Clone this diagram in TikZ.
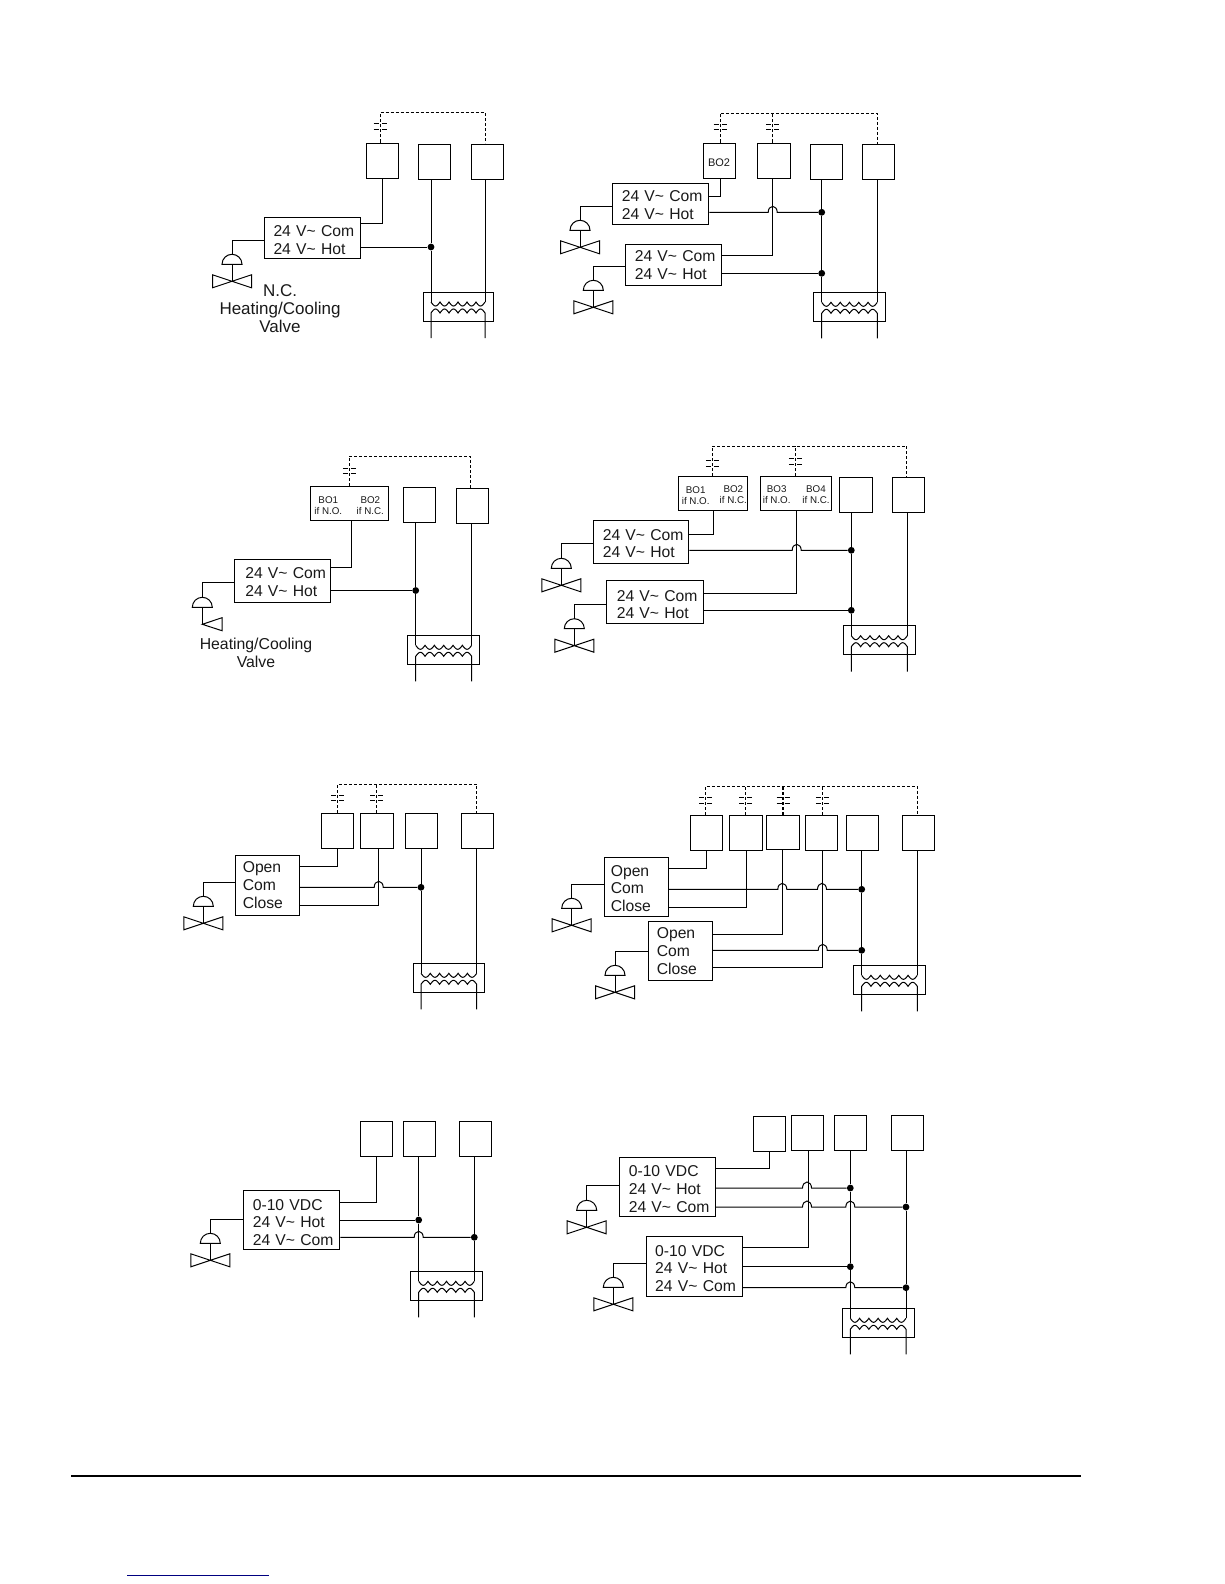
\documentclass[tikz,border=0pt]{standalone}
\usepackage{fontspec}
\setmainfont{Liberation Sans}
\usetikzlibrary{positioning}
\tikzset{
    myterm/.style = {rectangle, draw=black, line width=1pt, minimum width=32pt, minimum height=35pt, inner sep=0, font=\fontsize{11}{12}\selectfont, text=black!90},
    mybo/.style = {rectangle, draw=black, line width=1pt, minimum height=33.6pt, inner sep=0},
    myctrl/.style = {rectangle, draw=black, line width=1pt, anchor=north west, align=left, inner xsep=9pt, inner ysep=0, font=\fontsize{15.7}{17.8}\selectfont, text=black!90},
    myinfo/.style = {align=center, inner sep=0, font=\fontsize{9.8}{10.8}\selectfont, text=black!90},
    mytext/.style = {align=center, inner sep=0, font=\fontsize{15.8}{17.6}\selectfont, text=black!90},
    mydot/.style = {circle, fill=black, inner sep=0, minimum size=6.8pt},
    myxbox/.style = {rectangle, draw=black, line width=1pt, minimum height=29pt, inner sep=0},
    edgew/.style = {-,line width=1pt,black},
    edged/.style = {-,line width=1pt,black,dash pattern=on 3pt off 2pt}, % control
    edgec/.style = {-,line width=1pt,black,dash pattern=on 5pt off 3pt}, % contact
    edgev/.style = {-,line width=1pt,black}
}
\def\vt{24~V\textasciitilde~}
\newcommand{\dn}[1]{\rule{0pt}{\dimexpr 11.4pt+#1pt*2\relax}}
\newcommand{\hop}[2]{-- (#1-4.5,#2) arc[start angle=180,end angle=0,x radius=4.5pt,y radius=6pt]}
\newcommand{\mycontact}[2]{
    \draw[edgec] (#1-6.5,#2) -- (#1+6.5,#2);
    \draw[edgec] (#1-6.5,#2+5.5) -- (#1+6.5,#2+5.5);
}
\newcommand{\myvalve}[3]{
    \coordinate (#1) at (#2,#3-10);
    \draw[edgew] (#2-10,#3) arc[start angle=180,end angle=0,radius=10pt] -- cycle;
    \draw[edgew] (#2,#3) -- (#2,#3+17);
    \draw[edgev] (#2-19.5,#3+10.5) -- (#2+19.5,#3+23.5) -- (#2+19.5,#3+10.5) -- (#2-19.5,#3+23.5) -- cycle;
}
\newcommand{\myxfmr}[4]{
    \node[myxbox, minimum width={#3-#2+16}] at ({(#2+#3)/2},#4+14.5) (#1) {};
    \coordinate (#1a) at (#2,#4+10);
    \coordinate (#1b) at (#3,#4+10);
    \draw[edgev] (#1a) -- plot[domain=0:6,samples=61] ({#2+\x*(#3-#2)/6},{#4+10+4*abs(sin(\x*180))}) -- (#1b);
    \draw[edgev] (#2,#4+46) -- plot[domain=0:6,samples=61] ({#2+\x*(#3-#2)/6},{#4+21-4*abs(sin(\x*180))}) -- (#3,#4+46);
}

\begin{document}
\begin{tikzpicture}[x=1pt,y=-1pt]
\useasboundingbox (0,0) rectangle (1224,1584);

% one valve, 24 V
\node[myterm] at (382.0, 160.5) (t1a) {};
\node[myterm] at (434.0, 161.5) (t1b) {};
\node[myterm] at (487.0, 161.5) (t1c) {};
\node[myctrl, text width=78pt, minimum height=41pt] at (264, 217) (c1) {\dn{2}\vt Com\\\vt Hot};
\node[mydot] at (431, 247) (d1) {};
\myxfmr{x1}{431}{485}{292}
\myvalve{v1}{232}{264.3}
\node[mytext, font=\fontsize{17}{18}\selectfont] at (280, 309) (n1) {N.C.\\Heating/Cooling\\Valve};
\coordinate (b1) at (485, 113);
\mycontact{380}{124}
\draw[edged] (t1a.north -| 380,0) |- (b1) -- (t1c.north -| b1);
\draw[edgew] (t1a.south) |- (c1.east |- 0,223);
\draw[edgew] (c1.east |- d1) -- (d1);
\draw[edgew] (t1b.south -| d1) -- (d1) -- (x1a);
\draw[edgew] (t1c.south -| x1b) -- (x1b);
\draw[edgew] (c1.west |- 0,240) -| (v1);

% two valves, 24 V
\node[myterm] at (719.0, 160.5) (t2a) {\rule{0pt}{11.5pt}BO2};
\node[myterm, minimum width=33pt] at (774.0, 160.5) (t2b) {};
\node[myterm] at (826.3, 161.5) (t2c) {};
\node[myterm] at (878.5, 162.0) (t2d) {};
\node[myctrl, text width=78pt, minimum height=41.6pt] at (612.3, 182.7) (c2a) {\dn{1}\vt Com\\\vt Hot};
\node[myctrl, text width=78pt, minimum height=41.6pt] at (625.3, 243.7) (c2b) {\vt Com\\\vt Hot};
\node[mydot] at (821.7, 212.3) (d2a) {};
\node[mydot] at (821.7, 273.3) (d2b) {};
\myxfmr{x2}{821.7}{877.3}{292.3}
\myvalve{v2a}{580}{230.3}
\myvalve{v2b}{593.3}{290.3}
\coordinate (b2) at (877.3, 113.3);
\mycontact{720}{124.3}
\mycontact{772.7}{124.3}
\draw[edged] (t2a.north -| 720,0) |- (b2) -- (t2d.north -| b2);
\draw[edged] (t2b.north -| 772.7,0) -- (772.7,0 |- b2);
\draw[edgew] (t2a.south -| 720,0) |- (c2a.east |- 0,196.7);
\draw[edgew] (c2a.east |- d2a) \hop{772.7}{212.3} -- (d2a);
\draw[edgew] (t2b.south -| 772.7,0) |- (c2b.east |- 0,255.3);
\draw[edgew] (c2b.east |- d2b) -- (d2b);
\draw[edgew] (t2c.south -| d2a) -- (d2a) -- (d2b) -- (x2a);
\draw[edgew] (t2d.south -| x2b) -- (x2b);
\draw[edgew] (c2a.west |- 0,206.3) -| (v2a);
\draw[edgew] (c2b.west |- 0,266) -| (v2b);

% one valve, 24 V, BO pair
\node[mybo, minimum width=78.4pt] at (349.5, 503.5) (t3a) {};
\node[myinfo] at (328.3, 505.5) (i3a) {BO1\\if N.O.};
\node[myinfo] at (370.3, 505.5) (i3b) {BO2\\if N.C.};
\node[myterm] at (419.5, 505.0) (t3b) {};
\node[myterm] at (472.3, 505.5) (t3c) {};
\node[myctrl, text width=77.3pt, minimum height=43pt, inner xsep=9pt] at (234.3, 559.3) (c3) {\hspace*{1.5pt}\dn{0.5}\vt Com\\\hspace*{1.5pt}\vt Hot};
\node[mydot] at (415.7, 590.5) (d3) {};
\myxfmr{x3}{415.7}{471.7}{635.3}
\coordinate (v3) at (202.3, 597.3);
\draw[edgew] (192.3, 607.3) arc[start angle=180,end angle=0,radius=10pt] -- cycle;
\draw[edgew] (202.3, 607.3) -- (202.3, 624.3);
\draw[edgev] (202.3, 624.3) -- (222, 617.7) -- (222, 630.7) -- cycle;
\node[mytext] at (256, 653) (n3) {Heating/Cooling\\Valve};
\coordinate (b3) at (470.3, 456);
\mycontact{349.3}{468.3}
\draw[edged] (t3a.north -| 349.3,0) |- (b3) -- (t3c.north -| b3);
\draw[edgew] (t3a.south -| 351.7,0) |- (c3.east |- 0,567.3);
\draw[edgew] (c3.east |- d3) -- (d3);
\draw[edgew] (t3b.south -| d3) -- (d3) -- (x3a);
\draw[edgew] (t3c.south -| x3b) -- (x3b);
\draw[edgew] (c3.west |- 0,582.3) -| (v3);

% two valves, 24 V, BO pairs
\node[mybo, minimum width=69.4pt] at (713.0, 493.5) (t4a) {};
\node[myinfo] at (695.7, 495.5) (i4a) {BO1\\if N.O.};
\node[myinfo] at (733.3, 495.0) (i4b) {BO2\\if N.C.};
\node[mybo, minimum width=71.4pt] at (796.0, 493.5) (t4b) {};
\node[myinfo] at (776.7, 495.0) (i4c) {BO3\\if N.O.};
\node[myinfo] at (816.0, 495.0) (i4d) {BO4\\if N.C.};
\node[myterm, minimum width=33pt] at (855.8, 494.8) (t4c) {};
\node[myterm] at (908.3, 495.3) (t4d) {};
\node[myctrl, text width=77pt, minimum height=43pt] at (593.3, 520.3) (c4a) {\dn{1}\vt Com\\\vt Hot};
\node[myctrl, text width=78.4pt, minimum height=43pt] at (606.3, 580.3) (c4b) {\hspace*{1pt}\dn{2}\vt Com\\\hspace*{1pt}\vt Hot};
\node[mydot] at (851.3, 550.3) (d4a) {};
\node[mydot] at (851.3, 610.3) (d4b) {};
\myxfmr{x4}{851.3}{907.3}{625.7}
\myvalve{v4a}{561.3}{568.3}
\myvalve{v4b}{574.3}{628.7}
\coordinate (b4) at (906.7, 446);
\mycontact{712.3}{460.7}
\mycontact{795.3}{458.5}
\draw[edged] (t4a.north -| 712.3,0) |- (b4) -- (t4d.north -| b4);
\draw[edged] (t4b.north -| 795.3,0) -- (795.3,0 |- b4);
\draw[edgew] (t4a.south -| 713.3,0) |- (c4a.east |- 0,534.3);
\draw[edgew] (c4a.east |- d4a) \hop{796.7}{550.3} -- (d4a);
\draw[edgew] (t4b.south -| 796.7,0) |- (c4b.east |- 0,593.3);
\draw[edgew] (c4b.east |- d4b) -- (d4b);
\draw[edgew] (t4c.south -| d4a) -- (d4a) -- (d4b) -- (x4a);
\draw[edgew] (t4d.south -| x4b) -- (x4b);
\draw[edgew] (c4a.west |- 0,543.3) -| (v4a);
\draw[edgew] (c4b.west |- 0,604.3) -| (v4b);

% one valve, floating
\node[myterm] at (337.3, 830.8) (t5a) {};
\node[myterm, minimum width=33.4pt] at (377.0, 830.8) (t5b) {};
\node[myterm] at (421.3, 830.8) (t5c) {};
\node[myterm] at (477.3, 830.8) (t5d) {};
\node[myctrl, text width=49.4pt, minimum height=60pt, inner xsep=7pt] at (235.3, 855.3) (c5) {Open\\Com\\Close\rule[-2pt]{0pt}{2pt}};
\node[mydot] at (421, 887.3) (d5) {};
\myxfmr{x5}{421}{476.7}{963.3}
\myvalve{v5}{203.3}{906.3}
\coordinate (b5) at (476.7, 784.3);
\mycontact{337.3}{795}
\mycontact{376.7}{795}
\draw[edged] (t5a.north) |- (b5) -- (t5d.north -| b5);
\draw[edged] (t5b.north -| 376.7,0) -- (376.7,0 |- b5);
\draw[edgew] (t5a.south) |- (c5.east |- 0,866.3);
\draw[edgew] (c5.east |- d5) \hop{378.7}{887.3} -- (d5);
\draw[edgew] (t5b.south -| 378.7,0) |- (c5.east |- 0,905.3);
\draw[edgew] (t5c.south -| d5) -- (d5) -- (x5a);
\draw[edgew] (t5d.south -| x5b) -- (x5b);
\draw[edgew] (c5.west |- 0,882.7) -| (v5);

% two valves, floating
\node[myterm] at (706.5, 832.8) (t6a) {};
\node[myterm, minimum width=33pt] at (745.8, 832.8) (t6b) {};
\node[myterm, minimum width=33.4pt, minimum height=34pt] at (783.0, 832.3) (t6c) {};
\node[myterm] at (821.3, 832.8) (t6d) {};
\node[myterm] at (862.3, 832.8) (t6e) {};
\node[myterm] at (918.3, 832.8) (t6f) {};
\node[myctrl, text width=51.4pt, minimum height=59pt, inner xsep=6pt] at (604.3, 857.3) (c6a) {\dn{1}Open\\Com\\Close};
\node[myctrl, text width=47.4pt, minimum height=59pt, inner xsep=8pt] at (648.3, 921.3) (c6b) {Open\\Com\\Close};
\node[mydot] at (861.7, 889.3) (d6a) {};
\node[mydot] at (861.7, 950.3) (d6b) {};
\myxfmr{x6}{861.7}{917.3}{965.3}
\myvalve{v6a}{571.7}{908.3}
\myvalve{v6b}{615}{975.3}
\coordinate (b6) at (917.3, 786);
\mycontact{705.7}{797.7}
\mycontact{745.7}{797.7}
\mycontact{783}{797.7}
\mycontact{822.3}{797.7}
\draw[edged] (t6a.north -| 705.7,0) |- (b6) -- (t6f.north -| b6);
\draw[edged] (t6b.north -| 745.7,0) -- (745.7,0 |- b6);
\draw[edged, line width=1.4pt] (t6c.north) -- (t6c.north |- b6);
\draw[edged] (t6d.north -| 822.3,0) -- (822.3,0 |- b6);
\draw[edgew] (t6a.south) |- (c6a.east |- 0,868.3);
\draw[edgew] (c6a.east |- d6a) \hop{782.3}{889.3} \hop{822}{889.3} -- (d6a);
\draw[edgew] (t6b.south -| 746.7,0) |- (c6a.east |- 0,907.3);
\draw[edgew] (t6c.south -| 782.3,0) |- (c6b.east |- 0,934);
\draw[edgew] (c6b.east |- d6b) \hop{822.7}{950.3} -- (d6b);
\draw[edgew] (t6d.south -| 822.7,0) |- (c6b.east |- 0,967.3);
\draw[edgew] (t6e.south -| d6a) -- (d6a) -- (d6b) -- (x6a);
\draw[edgew] (t6f.south -| x6b) -- (x6b);
\draw[edgew] (c6a.west |- 0,884.3) -| (v6a);
\draw[edgew] (c6b.west |- 0,951.3) -| (v6b);

% one valve, proportional
\node[myterm] at (376.3, 1139.0) (t7a) {};
\node[myterm] at (419.5, 1139.0) (t7b) {};
\node[myterm] at (475.3, 1138.5) (t7c) {};
\node[myctrl, text width=78pt, minimum height=59pt] at (243.3, 1190.3) (c7) {\dn{2}0-10~VDC\\\vt Hot\\\vt Com};
\node[mydot] at (418.7, 1220) (d7a) {};
\node[mydot] at (474.3, 1237.3) (d7b) {};
\myxfmr{x7}{418.7}{474.3}{1271.3}
\myvalve{v7}{210.3}{1243.3}
\draw[edgew] (t7a.south) |- (c7.east |- 0,1202.3);
\draw[edgew] (c7.east |- d7a) -- (d7a);
\draw[edgew] (c7.east |- d7b) \hop{418.7}{1237.3} -- (d7b);
\draw[edgew] (t7b.south -| d7a) -- (d7a) -- (x7a);
\draw[edgew] (t7c.south -| d7b) -- (d7b) -- (x7b);
\draw[edgew] (c7.west |- 0,1219.3) -| (v7);

% two valves, proportional
\node[myterm] at (769.3, 1134.0) (t8a) {};
\node[myterm] at (807.5, 1132.7) (t8b) {};
\node[myterm] at (850.5, 1133.0) (t8c) {};
\node[myterm] at (907.3, 1133.0) (t8d) {};
\node[myctrl, text width=77.4pt, minimum height=58.7pt] at (619.3, 1157.3) (c8a) {\dn{2}0-10~VDC\\\vt Hot\\\vt Com};
\node[myctrl, text width=78pt, minimum height=60pt] at (645.7, 1236.3) (c8b) {\dn{1.5}0-10~VDC\\\vt Hot\\\vt Com};
\node[mydot] at (850.3, 1188) (d8a) {};
\node[mydot] at (906, 1207) (d8b) {};
\node[mydot] at (850.3, 1266.7) (d8c) {};
\node[mydot] at (906, 1287.7) (d8d) {};
\myxfmr{x8}{850.3}{906}{1308.3}
\myvalve{v8a}{586.7}{1210.3}
\myvalve{v8b}{613.3}{1287.3}
\draw[edgew] (t8a.south) |- (c8a.east |- 0,1168.3);
\draw[edgew] (c8a.east |- d8a) \hop{807}{1188} -- (d8a);
\draw[edgew] (c8a.east |- d8b) \hop{807}{1207} \hop{850.3}{1207} -- (d8b);
\draw[edgew] (t8b.south -| 808,0) |- (c8b.east |- 0,1247.3);
\draw[edgew] (c8b.east |- d8c) -- (d8c);
\draw[edgew] (c8b.east |- d8d) \hop{850.3}{1287.7} -- (d8d);
\draw[edgew] (t8c.south -| d8a) -- (d8a) -- (d8c) -- (x8a);
\draw[edgew] (t8d.south -| d8b) -- (d8b) -- (d8d) -- (x8b);
\draw[edgew] (c8a.west |- 0,1185.3) -| (v8a);
\draw[edgew] (c8b.west |- 0,1263.3) -| (v8b);

% page rules
\draw[line width=2pt,black] (71, 1476) -- (1081, 1476);
\draw[line width=1pt,blue!50!black] (127, 1575) -- (269, 1575);

\end{tikzpicture}
\end{document}
